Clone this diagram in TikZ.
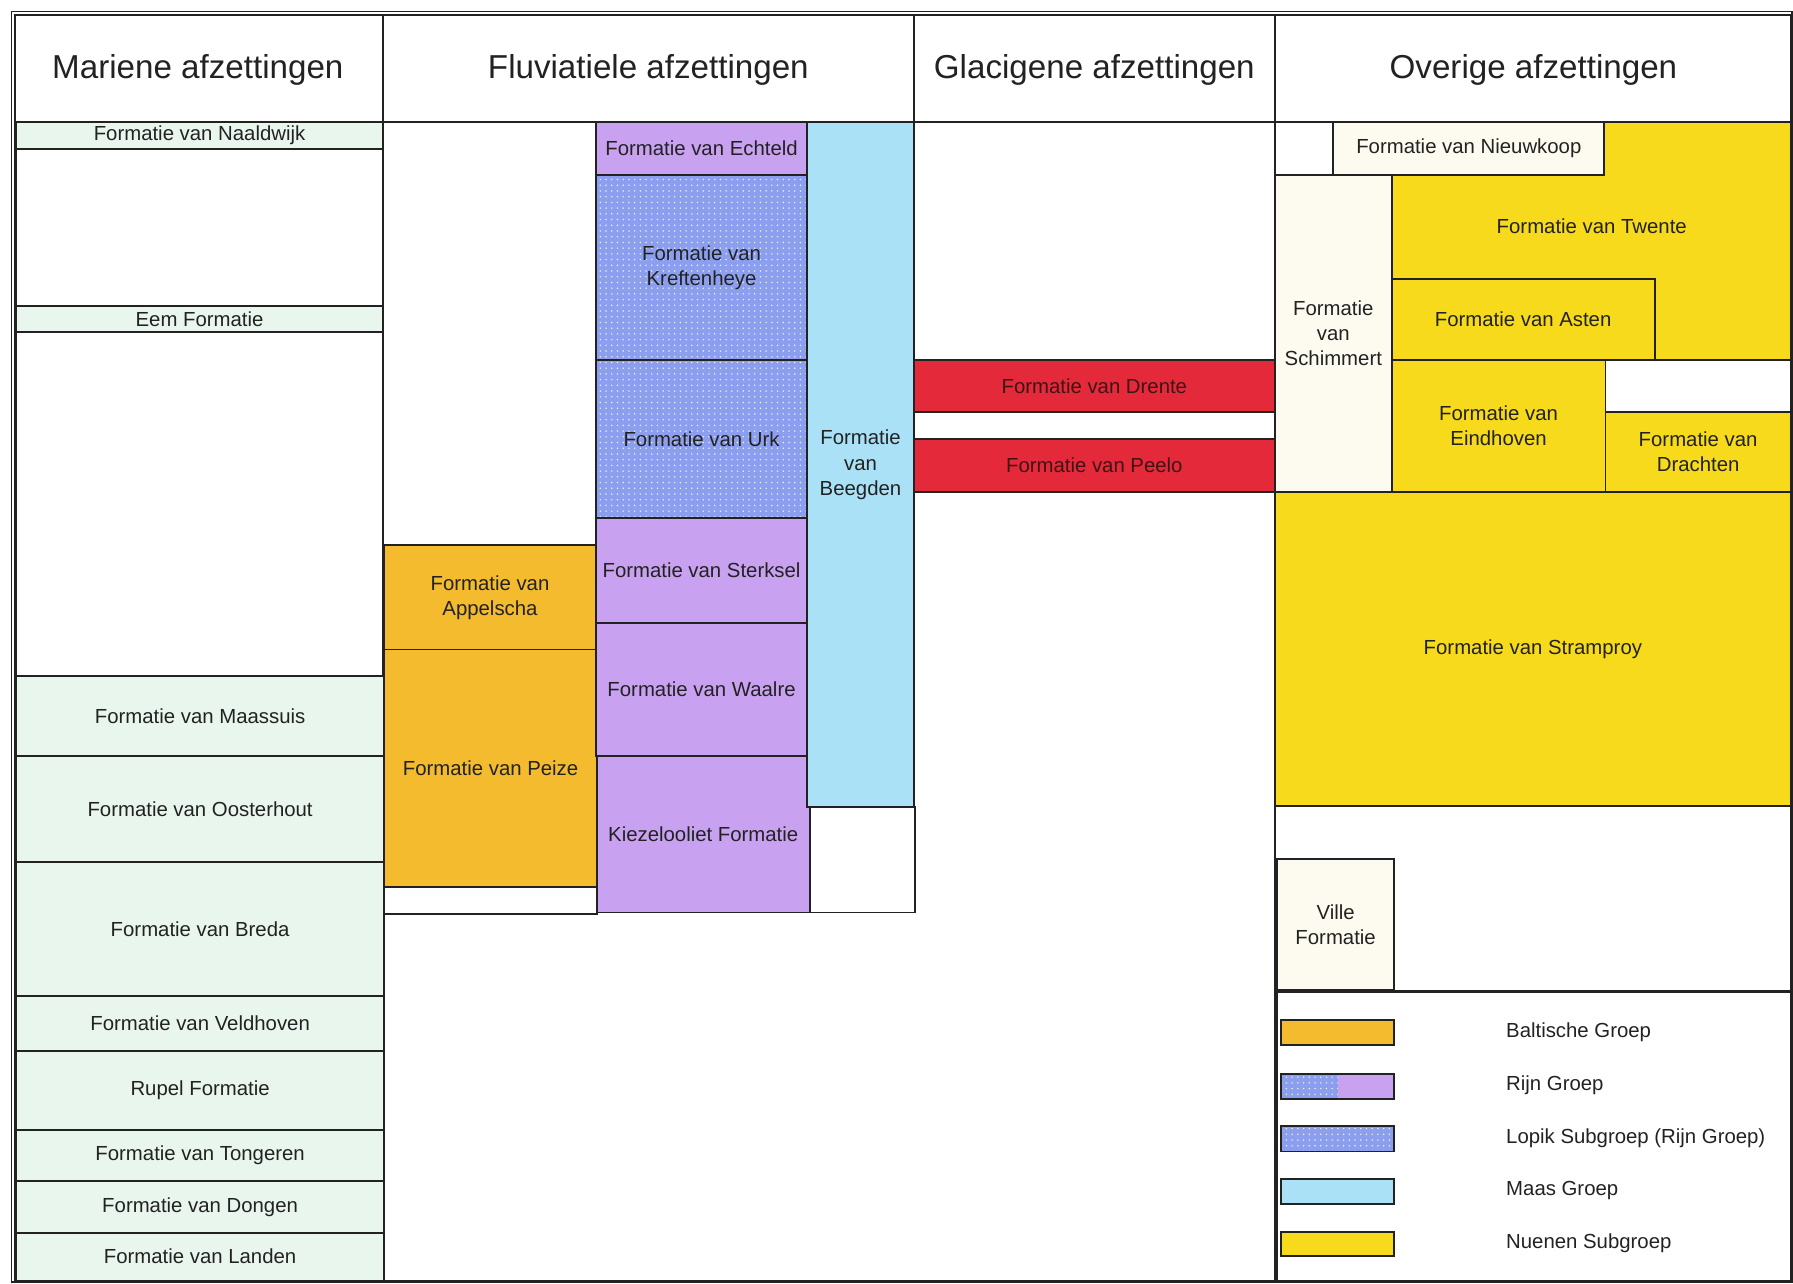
\documentclass[tikz,border=0pt]{standalone}
\usepackage{fontspec}
\setmainfont{Liberation Sans}
\usetikzlibrary{patterns.meta}
\definecolor{marine}{HTML}{E9F6EE}
\definecolor{rijn}{HTML}{C8A2F0}
\definecolor{lopik}{HTML}{8C9EEE}
\definecolor{maas}{HTML}{ABE1F7}
\definecolor{baltic}{HTML}{F3BB2D}
\definecolor{nuenen}{HTML}{F6DA1B}
\definecolor{glac}{HTML}{E42A3A}
\definecolor{cream}{HTML}{FDFBF0}
\definecolor{ink}{HTML}{222222}
\definecolor{redink}{HTML}{3E1414}
\tikzset{
  fbox/.style={draw=ink, line width=1.7pt, inner sep=0pt, outer sep=0pt, align=center,
    font=\fontsize{17.8}{22}\selectfont, text=ink},
  mar/.style={fbox, fill=marine},
  rij/.style={fbox, fill=rijn},
  lop/.style={fbox, draw=none, fill=lopik,
    postaction={pattern={Dots[distance=5pt, radius=0.75pt]}, pattern color=white!80!lopik},
    postaction={draw=ink, line width=1.7pt}},
  maa/.style={fbox, fill=maas},
  bal/.style={fbox, fill=baltic},
  nue/.style={fbox, fill=nuenen},
  gla/.style={fbox, fill=glac, text=redink},
  cre/.style={fbox, fill=cream},
  emp/.style={fbox, fill=white},
  rule/.style={draw=ink, line width=1.7pt},
  head/.style={font=\fontsize{29}{34}\selectfont, text=ink},
  legtxt/.style={font=\fontsize{17.8}{22}\selectfont, text=ink, anchor=west, inner sep=0pt},
}
\newcommand{\fbx}[7]{\node[#2, minimum width={(#5-#3)*1pt}, minimum height={(#6-#4)*1pt}] (#1) at ({(#3+#5)/2},{(#4+#6)/2}) {#7};}
\begin{document}
\begin{tikzpicture}[x=1pt, y=-1pt]
\fill[white] (0,0) rectangle (1568,1122);
\useasboundingbox (0,0) rectangle (1568,1122);
% header
\node[head] (hm) at (173,61) {Mariene afzettingen};
\node[head] (hf) at (567,61) {Fluviatiele afzettingen};
\node[head] (hg) at (957,61) {Glacigene afzettingen};
\node[head] (ho) at (1341,61) {Overige afzettingen};
\draw[rule] (13,107) -- (1566,107);
\foreach \xx in {335,799,1115} \draw[rule] (\xx,13) -- (\xx,107);
% marine
\fbx{naal}{mar}{14}{107}{335}{130}{Formatie van Naaldwijk}
\fbx{mw1}{emp}{14}{130}{335}{268}{}
\fbx{eem}{mar}{14}{268}{335}{290}{Eem Formatie}
\fbx{mw2}{emp}{14}{290}{335}{591}{}
\fbx{maass}{mar}{14}{591}{336}{661}{Formatie van Maassuis}
\fbx{oost}{mar}{14}{661}{336}{754}{Formatie van Oosterhout}
\fbx{breda}{mar}{14}{754}{336}{871}{Formatie van Breda}
\fbx{veld}{mar}{14}{871}{336}{919}{Formatie van Veldhoven}
\fbx{rupel}{mar}{14}{919}{336}{988}{Rupel Formatie}
\fbx{tong}{mar}{14}{988}{336}{1033}{Formatie van Tongeren}
\fbx{dong}{mar}{14}{1033}{336}{1078}{Formatie van Dongen}
\fbx{land}{mar}{14}{1078}{336}{1120}{Formatie van Landen}
% fluvial
\fbx{fw1}{emp}{335}{107}{521}{477}{}
\fbx{appel}{bal}{336}{477}{521}{568}{Formatie van\\Appelscha}
\fbx{peize}{bal}{336}{568}{522}{776}{Formatie van Peize}
\fbx{fw2}{emp}{336}{776}{522}{799}{}
\fbx{echt}{rij}{521}{107}{706}{153}{Formatie van Echteld}
\fbx{kreft}{lop}{521}{153}{706}{315}{Formatie van\\Kreftenheye}
\fbx{urk}{lop}{521}{315}{706}{453}{Formatie van Urk}
\fbx{sterk}{rij}{521}{453}{706}{545}{Formatie van Sterksel}
\fbx{waal}{rij}{521}{545}{706}{661}{Formatie van Waalre}
\fbx{kiez}{rij}{522}{661}{708}{798}{Kiezelooliet Formatie}
\fbx{beeg}{maa}{706}{107}{799}{706}{Formatie\\van\\Beegden}
\fbx{fw3}{emp}{708}{706}{800}{798}{}
% glacial
\draw[rule] (1115,107) -- (1115,1120);
\fbx{drente}{gla}{799}{315}{1115}{360}{Formatie van Drente}
\fbx{peelo}{gla}{799}{384}{1115}{430}{Formatie van Peelo}
% overige
\fbx{ow1}{emp}{1115}{107}{1166}{153}{}
\fbx{nieuw}{cre}{1166}{107}{1403}{153}{Formatie van Nieuwkoop}
\draw[rule, fill=nuenen] (1403,107) -- (1566,107) -- (1566,315) -- (1447,315) -- (1447,244) -- (1217,244) -- (1217,153) -- (1403,153) -- cycle;
\node[fbox, draw=none] (twente) at (1392,198) {Formatie van Twente};
\fbx{schim}{cre}{1115}{153}{1217}{430}{Formatie\\van\\Schimmert}
\fbx{asten}{nue}{1217}{244}{1447}{315}{Formatie van Asten}
\fbx{eind}{nue}{1217}{315}{1404}{430}{Formatie van\\Eindhoven}
\fbx{ow2}{emp}{1404}{315}{1566}{360}{}
\fbx{dracht}{nue}{1404}{360}{1566}{430}{Formatie van\\Drachten}
\fbx{stramp}{nue}{1115}{430}{1566}{705}{Formatie van Stramproy}
\fbx{ville}{cre}{1117}{751}{1219}{866}{Ville\\Formatie}
% legend
\fill[white] (1115,866) rectangle (1566,1120);
\draw[ink, line width=3.2pt] (1116,1120) -- (1116,867) -- (1566,867);
\fbx{sw1}{bal}{1120}{892}{1219}{914}{}
\fill[rijn] (1170,939) rectangle (1219,961);
\fill[lopik] (1120,939) rectangle (1170,961);
\fill[pattern={Dots[distance=5pt, radius=0.75pt]}, pattern color=white!80!lopik] (1120,939) rectangle (1170,961);
\node[fbox, minimum width=99pt, minimum height=22pt] (sw2) at (1169.5,950) {};
\fbx{sw3}{lop}{1120}{985}{1219}{1007}{}
\fbx{sw4}{maa}{1120}{1031}{1219}{1053}{}
\fbx{sw5}{nue}{1120}{1077}{1219}{1098}{}
\node[legtxt] (l1) at (1317,903) {Baltische Groep};
\node[legtxt] (l2) at (1317,949) {Rijn Groep};
\node[legtxt] (l3) at (1317,995) {Lopik Subgroep (Rijn Groep)};
\node[legtxt] (l4) at (1317,1041) {Maas Groep};
\node[legtxt] (l5) at (1317,1087) {Nuenen Subgroep};
% outer frame
\draw[ink, line width=1.2pt] (10,10) rectangle (1567,1121);
\draw[ink, line width=1.5pt] (13,13) rectangle (1566,1120);
\end{tikzpicture}
\end{document}
